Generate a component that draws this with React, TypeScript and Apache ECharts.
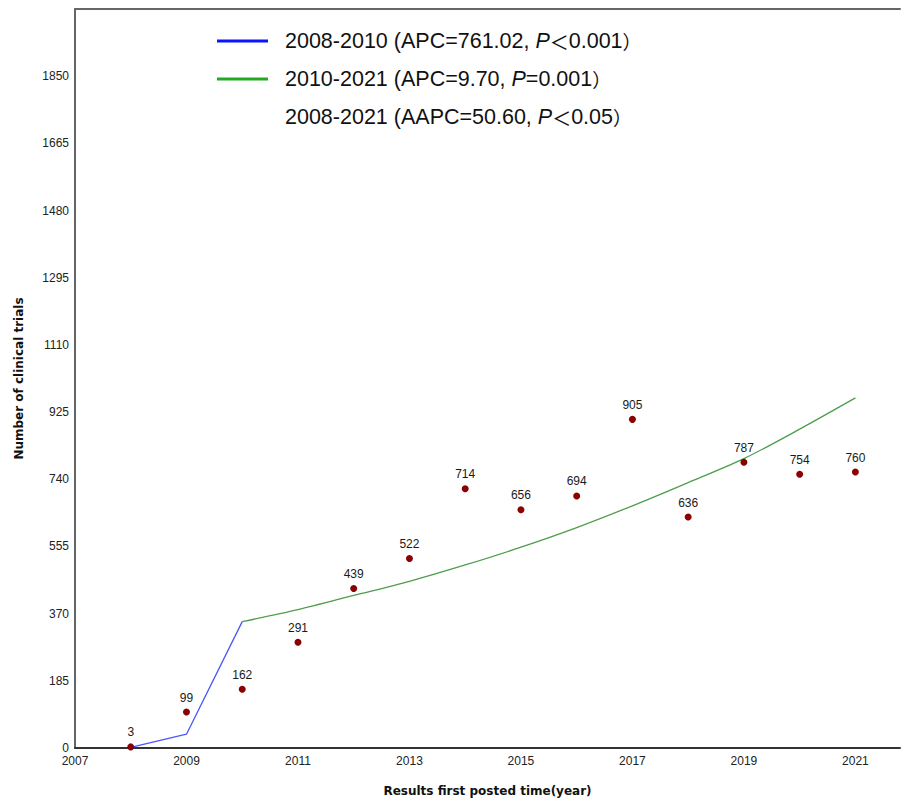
import React, { useEffect, useRef } from "react";
import * as echarts from "echarts";

const years = [2008, 2009, 2010, 2011, 2012, 2013, 2014, 2015, 2016, 2017, 2018, 2019, 2020, 2021];
const observed = [3, 99, 162, 291, 439, 522, 714, 656, 694, 905, 636, 787, 754, 760];
const fitYears1 = [2008, 2009, 2010];
const fit1 = [2, 38, 348];
const fitYears2 = [2010, 2011, 2012, 2013, 2014, 2015, 2016, 2017, 2018, 2019, 2020, 2021];
const fit2 = [348, 381, 420, 459, 504, 553, 607, 667, 731, 797, 878, 964];
const legendNames = ["seg1", "seg2", "overall"];
const legendTexts = [
  ["2008-2010 (APC=761.02, ", "P", "＜", "0.001", "）"],
  ["2010-2021 (APC=9.70, ", "P", "", "=0.001", "）"],
  ["2008-2021 (AAPC=50.60, ", "P", "＜", "0.05", "）"],
];

export default function App() {
  const ref = useRef<HTMLDivElement>(null);
  useEffect(() => {
    if (!ref.current) return;
    const chart = echarts.init(ref.current, undefined, { renderer: "svg" });
    const font = "'Liberation Sans', Arial, sans-serif";
    const cjk = "'Noto Sans CJK SC', sans-serif";
    const cjkTc = "'Noto Sans CJK TC', sans-serif";
    chart.setOption({
      animation: false,
      backgroundColor: "#fff",
      textStyle: { fontFamily: font },
      grid: { left: 75, top: 9, right: 0, bottom: 56, containLabel: false },
      legend: {
        orient: "vertical",
        left: 212,
        top: 25,
        itemWidth: 51,
        itemHeight: 3,
        itemGap: 16,
        icon: "rect",
        selectedMode: false,
        data: [
          { name: "seg1", itemStyle: { color: "#0a14ff" } },
          { name: "seg2", itemStyle: { color: "#22aa22" } },
          { name: "overall", itemStyle: { color: "rgba(0,0,0,0)" } },
        ],
        formatter: (name: string) => {
          const t = legendTexts[legendNames.indexOf(name)];
          const lt = t[2] ? `{c|${t[2]}}` : "";
          return `{a|${t[0]}}{i|${t[1]}}${lt}{a|${t[3]}}{p|${t[4]}}`;
        },
        textStyle: {
          padding: [0, 0, 0, 12],
          rich: {
            a: { fontSize: 21.5, color: "#111", fontFamily: font, height: 22 },
            i: { fontSize: 21.5, color: "#111", fontStyle: "italic", fontFamily: font, height: 22 },
            c: { fontSize: 19, color: "#111", fontFamily: cjk, height: 22 },
            p: { fontSize: 19, color: "#111", fontFamily: cjkTc, height: 22 },
          },
        },
      },
      xAxis: [
        {
          type: "value",
          min: 2007,
          max: 2021.8,
          interval: 2,
          splitLine: { show: false },
          axisTick: { show: false },
          axisLine: { lineStyle: { color: "#333", width: 2 } },
          axisLabel: {
            color: "#222",
            fontSize: 12,
            margin: 7,
            formatter: (v: number) => (Number.isInteger(v) ? String(v) : ""),
          },
          name: "Results first posted time(year)",
          nameLocation: "middle",
          nameGap: 37,
          nameTextStyle: { fontFamily: "'DejaVu Sans', Verdana, sans-serif", fontWeight: "bold", fontSize: 12, color: "#111" },
        },
        {
          type: "value",
          position: "top",
          min: 2007,
          max: 2021.8,
          splitLine: { show: false },
          axisTick: { show: false },
          axisLabel: { show: false },
          axisLine: { show: true, lineStyle: { color: "#666", width: 2 } },
        },
      ],
      yAxis: {
        type: "value",
        min: 0,
        max: 2035,
        interval: 185,
        splitLine: { show: false },
        axisTick: { show: false },
        axisLine: { show: true, lineStyle: { color: "#666", width: 2 } },
        axisLabel: {
          color: "#222",
          fontSize: 12,
          margin: 6,
          showMaxLabel: false,
          formatter: (v: number) => (v >= 2035 ? "" : String(v)),
        },
        name: "Number of clinical trials",
        nameLocation: "middle",
        nameGap: 50,
        nameTextStyle: { fontFamily: "'DejaVu Sans', Verdana, sans-serif", fontWeight: "bold", fontSize: 12, color: "#111" },
      },
      series: [
        {
          name: "seg1",
          type: "line",
          data: fitYears1.map((y, i) => [y, fit1[i]]),
          showSymbol: false,
          symbol: "none",
          lineStyle: { color: "#4a55ff", width: 1.3 },
          itemStyle: { color: "#0a14ff" },
          z: 2,
        },
        {
          name: "seg2",
          type: "line",
          data: fitYears2.map((y, i) => [y, fit2[i]]),
          showSymbol: false,
          symbol: "none",
          smooth: 0.3,
          lineStyle: { color: "#4c9d4c", width: 1.3 },
          itemStyle: { color: "#22aa22" },
          z: 2,
        },
        {
          name: "overall",
          type: "line",
          data: [],
          itemStyle: { color: "rgba(0,0,0,0)" },
          lineStyle: { opacity: 0 },
        },
        {
          name: "observed",
          type: "scatter",
          data: years.map((y, i) => [y, observed[i]]),
          symbolSize: 7,
          itemStyle: { color: "#8b0000", opacity: 1 },
          label: {
            show: true,
            position: "top",
            distance: 5,
            fontSize: 12,
            color: "#1a1a1a",
            formatter: (p: any) => String(p.value[1]),
          },
          z: 3,
        },
      ],
    });
    return () => chart.dispose();
  }, []);
  return (
    <div
      ref={ref}
      style={{ position: "fixed", left: 0, top: 0, width: 903, height: 804, background: "#fff" }}
    />
  );
}
